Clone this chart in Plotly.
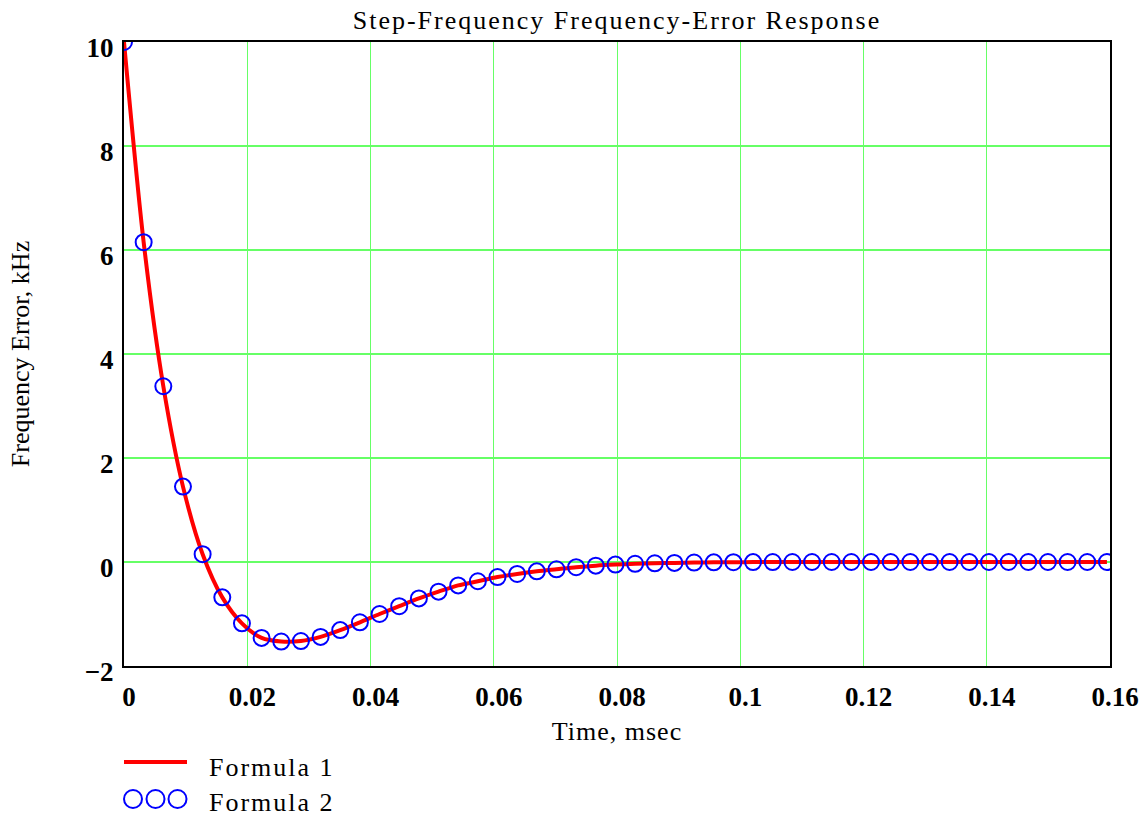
import plotly.graph_objects as go

# ---- data ----
time_msec = [0, 0.00319, 0.00638, 0.00957, 0.01276, 0.01595, 0.01914, 0.02233, 0.02552, 0.02871,
             0.0319, 0.03509, 0.03828, 0.04147, 0.04466, 0.04785, 0.05104, 0.05423, 0.05742, 0.06061,
             0.0638, 0.06699, 0.07018, 0.07337, 0.07656, 0.07975, 0.08294, 0.08613, 0.08932, 0.09251,
             0.0957, 0.09889, 0.10208, 0.10527, 0.10846, 0.11165, 0.11484, 0.11803, 0.12122, 0.12441,
             0.1276, 0.13079, 0.13398, 0.13717, 0.14036, 0.14355, 0.14674, 0.14993, 0.15312, 0.15631,
             0.1595]

formula1_khz = [10.0, 6.15, 3.38, 1.45, 0.15, -0.68, -1.18, -1.46, -1.53, -1.52,
                -1.44, -1.31, -1.16, -1.00, -0.85, -0.70, -0.57, -0.45, -0.37, -0.29,
                -0.23, -0.18, -0.14, -0.10, -0.07, -0.05, -0.035, -0.025, -0.017, -0.011,
                -0.007, -0.004, -0.002, -0.001, 0, 0, 0, 0, 0, 0,
                0, 0, 0, 0, 0, 0, 0, 0, 0, 0,
                0]

formula2_khz = [10.0, 6.15, 3.38, 1.45, 0.15, -0.68, -1.18, -1.46, -1.53, -1.52,
                -1.44, -1.31, -1.16, -1.00, -0.85, -0.70, -0.57, -0.45, -0.37, -0.29,
                -0.23, -0.18, -0.14, -0.10, -0.07, -0.05, -0.035, -0.025, -0.017, -0.011,
                -0.007, -0.004, -0.002, -0.001, 0, 0, 0, 0, 0, 0,
                0, 0, 0, 0, 0, 0, 0, 0, 0, 0,
                0]

x_tick_vals = [0, 0.02, 0.04, 0.06, 0.08, 0.1, 0.12, 0.14, 0.16]
x_tick_text = ["0", "0.02", "0.04", "0.06", "0.08", "0.1", "0.12", "0.14", "0.16"]
y_tick_vals = [-2, 0, 2, 4, 6, 8, 10]
y_tick_text = ["\u22122", "0", "2", "4", "6", "8", "10"]

series_names = ["Formula 1", "Formula 2"]

# ---- styles ----
SERIF = "Liberation Serif, Times New Roman, serif"
RED = "#ff0000"
BLUE = "#0000ff"
GRID = "#66ff66"

fig = go.Figure()
fig.add_trace(go.Scatter(
    x=time_msec, y=formula1_khz, mode="lines", name=series_names[0],
    line=dict(color=RED, width=4, shape="spline", smoothing=0.8),
    showlegend=False,
))
fig.add_trace(go.Scatter(
    x=time_msec, y=formula2_khz, mode="markers", name=series_names[1],
    marker=dict(symbol="circle-open", size=16, color=BLUE, line=dict(width=2, color=BLUE)),
    showlegend=False,
))

# ---- key (legend) drawn below the plot ----
W, H = 1145, 816
ML, MR, MT, MB = 124, 35, 42, 150
pw, ph = W - ML - MR, H - MT - MB

def py(pix_y):
    return (H - MB - pix_y) / ph

shapes = []
shapes.append(dict(type="line", xref="paper", yref="paper", xsizemode="pixel", ysizemode="pixel",
                   xanchor=0, yanchor=py(762), x0=0, x1=63, y0=0, y1=0,
                   line=dict(color=RED, width=4)))
for cx in (9, 31.5, 53.5):
    shapes.append(dict(type="circle", xref="paper", yref="paper", xsizemode="pixel", ysizemode="pixel",
                       xanchor=0, yanchor=py(799), x0=cx - 9, x1=cx + 9, y0=-9, y1=9,
                       line=dict(color=BLUE, width=2)))

annotations = []
for name, yc in zip(series_names, (767, 802)):
    annotations.append(dict(text=name, xref="paper", yref="paper", x=(216 - ML) / pw, y=py(yc),
                            xanchor="left", yanchor="middle", showarrow=False,
                            font=dict(family=SERIF, size=26, color="black")))

fig.update_layout(
    width=W, height=H,
    margin=dict(l=ML, r=MR, t=MT, b=MB, pad=0, autoexpand=False),
    paper_bgcolor="white", plot_bgcolor="white",
    title=dict(text="Step-Frequency Frequency-Error Response", x=0.5, xref="paper",
               y=1 - 20 / H, yref="container", xanchor="center", yanchor="middle",
               font=dict(family=SERIF, size=26, color="black")),
    xaxis=dict(range=[0, 0.16], tickvals=x_tick_vals, ticktext=x_tick_text,
               automargin=False,
               showgrid=True, gridcolor=GRID, gridwidth=1, zeroline=False,
               showline=True, mirror=True, linecolor="black", linewidth=2,
               ticks="", ticklabelshift=5, ticklabelstandoff=6,
               tickfont=dict(family=SERIF, size=27, color="black", weight="bold"),
               title=dict(text="Time, msec", standoff=10,
                          font=dict(family=SERIF, size=26, color="black"))),
    yaxis=dict(range=[-2, 10], tickvals=y_tick_vals, ticktext=y_tick_text,
               automargin=False,
               showgrid=True, gridcolor=GRID, gridwidth=2, zeroline=False,
               showline=True, mirror=True, linecolor="black", linewidth=2,
               ticks="", ticklabelshift=6, ticklabelstandoff=3,
               tickfont=dict(family=SERIF, size=27, color="black", weight="bold"),
               title=dict(text="Frequency Error, kHz", standoff=48,
                          font=dict(family=SERIF, size=26, color="black"))),
    shapes=shapes,
    annotations=annotations,
)

post = """
var gd = document.getElementById('{plot_id}');
function applySpacing(){
  gd.querySelectorAll('.gtitle').forEach(function(e){ e.style.letterSpacing='2px'; });
  gd.querySelectorAll('.xtitle').forEach(function(e){ e.style.letterSpacing='1px'; });
  gd.querySelectorAll('.annotation-text').forEach(function(e){ e.style.letterSpacing='2px'; });
}
applySpacing();
gd.on('plotly_afterplot', applySpacing);
"""

fig.write_html("out.html", post_script=post)
